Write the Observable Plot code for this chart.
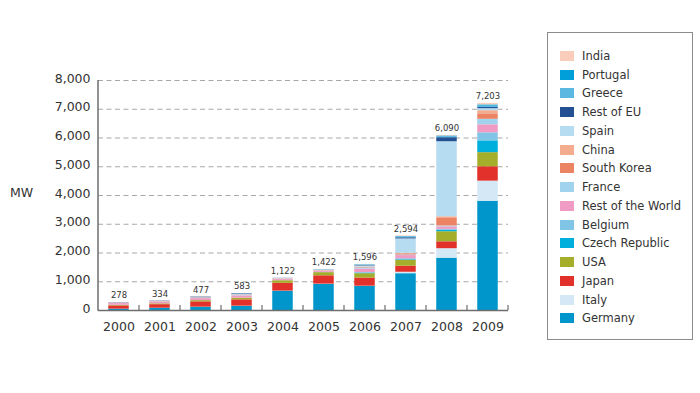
<!DOCTYPE html>
<html>
<head>
<meta charset="utf-8">
<script src="https://cdn.jsdelivr.net/npm/d3@7"></script>
<script src="https://cdn.jsdelivr.net/npm/@observablehq/plot@0.6"></script>
<style>
  body { margin: 0; background: #fff; font-family: "DejaVu Sans", sans-serif; }
  #wrap { position: relative; width: 700px; height: 393px; overflow: hidden; background: #fff; }
  #chart { position: absolute; left: 0; top: 0; }
  #mw { position: absolute; left: 10px; top: 185px; font-size: 12.5px; color: #333; }
  #legend { position: absolute; left: 547px; top: 32px; width: 144px; height: 306px;
            border: 1.6px solid #8c8c8c; }
  .item { position: absolute; left: 0; height: 14px; display: flex; align-items: center; }
  .sw { width: 14px; height: 10px; margin-left: 12px; margin-right: 8px; }
  .lb { font-size: 11.5px; color: #333; white-space: nowrap; }
</style>
</head>
<body>
<div id="wrap">
  <div id="chart"></div>
  <div id="mw">MW</div>
  <div id="legend"></div>
</div>
<script>
// ---- data (MW) ----
const years = ["2000","2001","2002","2003","2004","2005","2006","2007","2008","2009"];
// stack order, bottom to top
const countries = ["Germany","Italy","Japan","USA","Czech Republic","Belgium","Rest of the World",
                   "France","South Korea","China","Spain","Rest of EU","Greece","Portugal","India"];
const colors = ["#0096cc","#d4e8f5","#e2312b","#a5ae2a","#00afdc","#80c4e6","#f09bc3",
                "#a2d3ee","#ec8463","#f4ac8e","#b5dcf0","#234f93","#5bb8e0","#009fd9","#f9cdb9"];

const germany   = [45, 78, 111, 140, 670, 907, 835, 1280, 1820, 3800];
const italy     = [2, 2, 5, 10, 5, 10, 10, 50, 330, 700];
const japan     = [112, 123, 184, 220, 270, 290, 285, 210, 240, 500];
const usa       = [22, 29, 44, 60, 90, 110, 150, 210, 350, 490];
const czech     = [0, 0, 0, 0, 0, 0, 10, 20, 50, 410];
const belgium   = [0, 0, 0, 0, 0, 10, 30, 30, 30, 280];
const restWorld = [60, 65, 70, 80, 40, 40, 120, 110, 90, 280];
const france    = [5, 7, 8, 20, 10, 10, 40, 20, 30, 190];
const southKorea= [4, 5, 5, 5, 10, 10, 20, 40, 260, 190];
const china     = [5, 5, 10, 10, 10, 5, 10, 20, 60, 110];
const spain     = [3, 4, 9, 10, 10, 20, 40, 500, 2610, 70];
const restEU    = [10, 10, 20, 20, 5, 5, 20, 40, 140, 40];
const greece    = [1, 1, 2, 5, 1, 1, 10, 20, 30, 50];
const portugal  = [1, 1, 1, 3, 0, 2, 10, 20, 30, 40];
const india     = [8, 4, 8, 0, 1, 2, 6, 24, 20, 53];

const yTicks = [0, 1000, 2000, 3000, 4000, 5000, 6000, 7000, 8000];
const gridTicks = [1000, 2000, 3000, 4000, 5000, 6000, 7000, 8000];

// ---- build table ----
const series = [germany, italy, japan, usa, czech, belgium, restWorld, france,
                southKorea, china, spain, restEU, greece, portugal, india];
const rows = [];
countries.forEach((c, i) => years.forEach((y, j) => rows.push({year: y, country: c, value: series[i][j]})));
const totals = years.map(y => ({year: y, total: d3.sum(rows.filter(r => r.year === y), r => r.value)}));
const fmt = d3.format(",");

const chart = Plot.plot({
  width: 700, height: 393,
  marginLeft: 98, marginRight: 192, marginTop: 80, marginBottom: 83,
  style: {fontFamily: "DejaVu Sans, sans-serif", background: "transparent", color: "#333"},
  x: {domain: years, paddingInner: 0.5, paddingOuter: 0.25, round: false, label: null},
  y: {domain: [0, 8000], label: null},
  color: {domain: countries, range: colors},
  marks: [
    Plot.ruleY(gridTicks, {stroke: "#a8a8a8", strokeDasharray: "5,3.5", strokeWidth: 1}),
    Plot.barY(rows, {x: "year", y: "value", fill: "country", order: countries}),
    Plot.ruleY([0], {stroke: "#6e6e6e", strokeWidth: 1.5}),
    Plot.axisY({ticks: yTicks, tickFormat: d => fmt(d), tickSize: 0, tickPadding: 8, fontSize: 12.5, dy: -2, label: null}),
    Plot.axisX({tickSize: 0, tickPadding: 12, fontSize: 12.5, label: null}),
    Plot.text(totals, {x: "year", y: "total", text: d => fmt(d.total), dy: -7, fontSize: 8.5, fill: "#333"})
  ]
});
document.getElementById("chart").appendChild(chart);

// axis line on the left and band-boundary ticks on the baseline
const xs = chart.scale("x"), ys = chart.scale("y");
const svg = d3.select(chart.tagName === "svg" ? chart : chart.querySelector("svg"));
const gap = (xs.step - xs.bandwidth) / 2;
const leftX = xs.apply(years[0]) - gap;
const y0 = ys.apply(0), yTop = ys.apply(8000);
svg.append("line").attr("x1", leftX).attr("x2", leftX).attr("y1", yTop).attr("y2", y0 + 0.75)
  .attr("stroke", "#6e6e6e").attr("stroke-width", 1.5);
svg.append("g").selectAll("line").data(years).join("line")
  .attr("x1", d => xs.apply(d) + xs.bandwidth + gap).attr("x2", d => xs.apply(d) + xs.bandwidth + gap)
  .attr("y1", y0 - 5).attr("y2", y0)
  .attr("stroke", "#6e6e6e").attr("stroke-width", 1.2);

// legend (top to bottom is reverse stack order)
const legend = document.getElementById("legend");
countries.slice().reverse().forEach((c, i) => {
  const k = countries.indexOf(c);
  const it = document.createElement("div");
  it.className = "item";
  it.style.top = (16 + i * 18.74) + "px";
  it.innerHTML = `<span class="sw" style="background:${colors[k]}"></span><span class="lb">${c}</span>`;
  legend.appendChild(it);
});
</script>
</body>
</html>
